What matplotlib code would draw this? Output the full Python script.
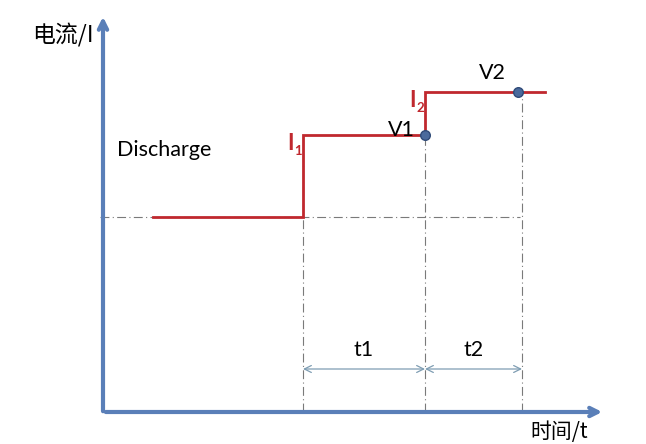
import matplotlib
matplotlib.use("Agg")
import matplotlib.pyplot as plt

plt.rcParams['font.family'] = ['Lato', 'Noto Sans CJK SC', 'DejaVu Sans']

# step current profile (time units, current units)
t_steps = [0.5, 2.0, 3.22, 4.42]
current_levels = [1.95, 2.77, 3.2]
# voltage sample points
v_times = [3.22, 4.15]
v_currents = [2.77, 3.2]
v_labels = ["V1", "V2"]
# interval markers
interval_edges = [2.0, 3.22, 4.19]
interval_labels = ["t1", "t2"]
level_labels = ["1", "2"]

AXIS = "#5a7fb8"
RED = "#c0282e"
GRAY = "#7a7a7a"

fig = plt.figure(figsize=(6.46, 4.44), dpi=100)
ax = fig.add_axes([0, 0, 1, 1])
ax.set_xlim(-1.03, 5.43)
ax.set_ylim(-0.32, 4.12)
ax.axis("off")

# axes with arrows
ax.annotate("", xy=(5.02, 0), xytext=(0, 0),
            arrowprops=dict(arrowstyle="->,head_length=0.6,head_width=0.3", color=AXIS, lw=3))
ax.annotate("", xy=(0, 3.98), xytext=(0, -0.02),
            arrowprops=dict(arrowstyle="->,head_length=0.6,head_width=0.3", color=AXIS, lw=3))
ax.text(-0.71, 3.77, "电流/I", fontsize=16.5, ha="left", va="center",
        family=['Noto Sans CJK SC', 'DejaVu Sans'])
ax.text(4.27, -0.2, "时间/t", fontsize=15, ha="left", va="center",
        family=['Noto Sans CJK SC', 'DejaVu Sans'])

# baseline
ax.plot([-0.03, 4.17], [current_levels[0]] * 2, color=GRAY, lw=0.8, ls=(0, (8, 3, 1, 3)))

# step profile
xs, ys = [t_steps[0]], [current_levels[0]]
for i in range(1, len(current_levels)):
    xs += [t_steps[i], t_steps[i]]
    ys += [current_levels[i - 1], current_levels[i]]
xs.append(t_steps[-1])
ys.append(current_levels[-1])
ax.plot(xs, ys, color=RED, lw=2, solid_joinstyle="miter", zorder=3)

# vertical guide lines
guide_tops = [current_levels[1], current_levels[1], current_levels[2]]
for x, top in zip(interval_edges, guide_tops):
    ax.plot([x, x], [0, top], color=GRAY, lw=0.8, ls=(0, (8, 3, 1, 3)), zorder=1)

# voltage points
ax.scatter(v_times, v_currents, s=48, color="#4a6a9c", edgecolor="#2f4a78", lw=1, zorder=4)
ax.text(v_times[0] - 0.1, v_currents[0] + 0.05, v_labels[0], fontsize=15.5, ha="right", va="center")
ax.text(v_times[1] - 0.26, v_currents[1] + 0.19, v_labels[1], fontsize=15.5, ha="center", va="center")

# current level labels
for x, y, lab in zip(t_steps[1:3], current_levels[1:], level_labels):
    ax.text(x - 0.09, y - 0.08, "I", color=RED, fontsize=16, fontweight="bold",
            ha="right", va="center")
    ax.text(x - 0.09, y - 0.16, lab, color=RED, fontsize=9.5, fontweight="bold",
            ha="left", va="center")

ax.text(0.14, 2.62, "Discharge", fontsize=15.5, ha="left", va="center")

# interval dimension arrows
for i, lab in enumerate(interval_labels):
    a, b = interval_edges[i], interval_edges[i + 1]
    ax.annotate("", xy=(b, 0.43), xytext=(a, 0.43),
                arrowprops=dict(arrowstyle="<->,head_length=0.5,head_width=0.25",
                                color="#7e9db3", lw=0.9, shrinkA=0, shrinkB=0))
    ax.text((a + b) / 2, 0.62, lab, fontsize=15.5, ha="center", va="center")

fig.savefig("out.png", dpi=100)
